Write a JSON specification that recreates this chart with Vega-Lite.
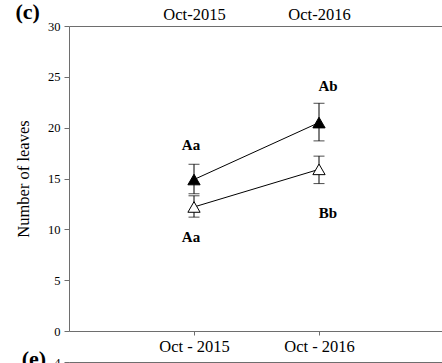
{
  "$schema": "https://vega.github.io/schema/vega-lite/v6.json",
  "padding": {"left": 15, "top": 1, "right": 0, "bottom": 0},
  "bounds": "flush",
  "spacing": 31,
  "config": {
    "font": "Liberation Serif",
    "view": {"stroke": null},
    "axis": {
      "labelFont": "Liberation Serif",
      "titleFont": "Liberation Serif",
      "labelColor": "black",
      "titleColor": "black",
      "domainColor": "#6e6e6e",
      "tickColor": "#6e6e6e",
      "grid": false
    }
  },
  "vconcat": [
    {
      "width": 375,
      "height": 305,
      "title": {"text": "(c)", "anchor": "start", "frame": "bounds", "offset": -18, "font": "Liberation Serif", "fontSize": 22, "fontWeight": "bold", "color": "black"},
      "data": {
        "values": [
          {"period": "Oct-2015", "group": "filled", "mean": 14.9, "lo": 13.5, "hi": 16.4, "label": "Aa", "labelAt": 18.3},
          {"period": "Oct-2016", "group": "filled", "mean": 20.5, "lo": 18.7, "hi": 22.4, "label": "Ab", "labelAt": 24.1},
          {"period": "Oct-2015", "group": "open", "mean": 12.2, "lo": 11.2, "hi": 13.3, "label": "Aa", "labelAt": 9.2},
          {"period": "Oct-2016", "group": "open", "mean": 15.9, "lo": 14.5, "hi": 17.2, "label": "Bb", "labelAt": 11.6}
        ]
      },
      "layer": [
        {
          "mark": {"type": "errorbar", "ticks": {"size": 11, "color": "black", "strokeWidth": 1}, "rule": {"color": "black", "strokeWidth": 1}},
          "encoding": {
            "x": {
              "field": "period", "type": "ordinal",
              "scale": {"type": "point", "padding": 1},
              "axis": {"orient": "top", "title": null, "ticks": false, "labelAngle": 0, "labelFontSize": 16.5, "labelPadding": 7, "labelBaseline": "alphabetic"}
            },
            "y": {"field": "lo", "type": "quantitative", "scale": {"domain": [0, 30]},
              "axis": {"orient": "left", "title": "Number of leaves", "values": [0, 5, 10, 15, 20, 25, 30], "labelFontSize": 12.5, "titleFontSize": 16.5, "titleFontWeight": "normal", "tickSize": 5, "labelPadding": 4, "titlePadding": 16}},
            "y2": {"field": "hi"},
            "detail": {"field": "group"}
          }
        },
        {
          "mark": {"type": "line", "color": "black", "strokeWidth": 1},
          "encoding": {
            "x": {"field": "period", "type": "ordinal", "axis": null},
            "y": {"field": "mean", "type": "quantitative"},
            "detail": {"field": "group"}
          }
        },
        {
          "mark": {"type": "point", "shape": "triangle-up", "size": 150, "stroke": "black", "strokeWidth": 1, "opacity": 1},
          "encoding": {
            "x": {"field": "period", "type": "ordinal", "axis": null},
            "y": {"field": "mean", "type": "quantitative"},
            "fill": {"field": "group", "type": "nominal", "scale": {"domain": ["filled", "open"], "range": ["black", "white"]}, "legend": null}
          }
        },
        {
          "transform": [{"filter": "datum.period === 'Oct-2015'"}],
          "mark": {"type": "text", "fontWeight": "bold", "fontSize": 15, "font": "Liberation Serif", "dx": -3, "color": "black"},
          "encoding": {
            "x": {"field": "period", "type": "ordinal", "axis": null},
            "y": {"field": "labelAt", "type": "quantitative"},
            "text": {"field": "label"}
          }
        },
        {
          "transform": [{"filter": "datum.period === 'Oct-2016'"}],
          "mark": {"type": "text", "fontWeight": "bold", "fontSize": 15, "font": "Liberation Serif", "dx": 9, "color": "black"},
          "encoding": {
            "x": {"field": "period", "type": "ordinal", "axis": null},
            "y": {"field": "labelAt", "type": "quantitative"},
            "text": {"field": "label"}
          }
        },
        {
          "mark": {"type": "rule", "opacity": 0},
          "encoding": {
            "x": {
              "field": "period", "type": "ordinal",
              "axis": {"orient": "bottom", "title": null, "labels": false, "tickSize": 4}
            }
          }
        }
      ],
      "resolve": {"axis": {"x": "independent"}}
    },
    {
      "width": 375,
      "height": 150,
      "title": {"text": "(e)", "anchor": "start", "frame": "bounds", "offset": -33, "font": "Liberation Serif", "fontSize": 22, "fontWeight": "bold", "color": "black"},
      "data": {"values": [{"period": "Oct - 2015"}, {"period": "Oct - 2016"}]},
      "mark": {"type": "point", "opacity": 0},
      "encoding": {
        "x": {
          "field": "period", "type": "ordinal",
          "scale": {"type": "point", "padding": 1},
          "axis": {"orient": "top", "title": null, "ticks": false, "labelAngle": 0, "labelFontSize": 16.5, "labelPadding": 11, "labelBaseline": "alphabetic"}
        },
        "y": {
          "datum": 0, "type": "quantitative",
          "scale": {"domain": [0, 4]},
          "axis": {"orient": "left", "title": " ", "values": [0, 1, 2, 3, 4], "labelFontSize": 12.5, "titleFontSize": 16.5, "tickSize": 5, "labelPadding": 4, "titlePadding": 16}
        }
      }
    }
  ]
}
